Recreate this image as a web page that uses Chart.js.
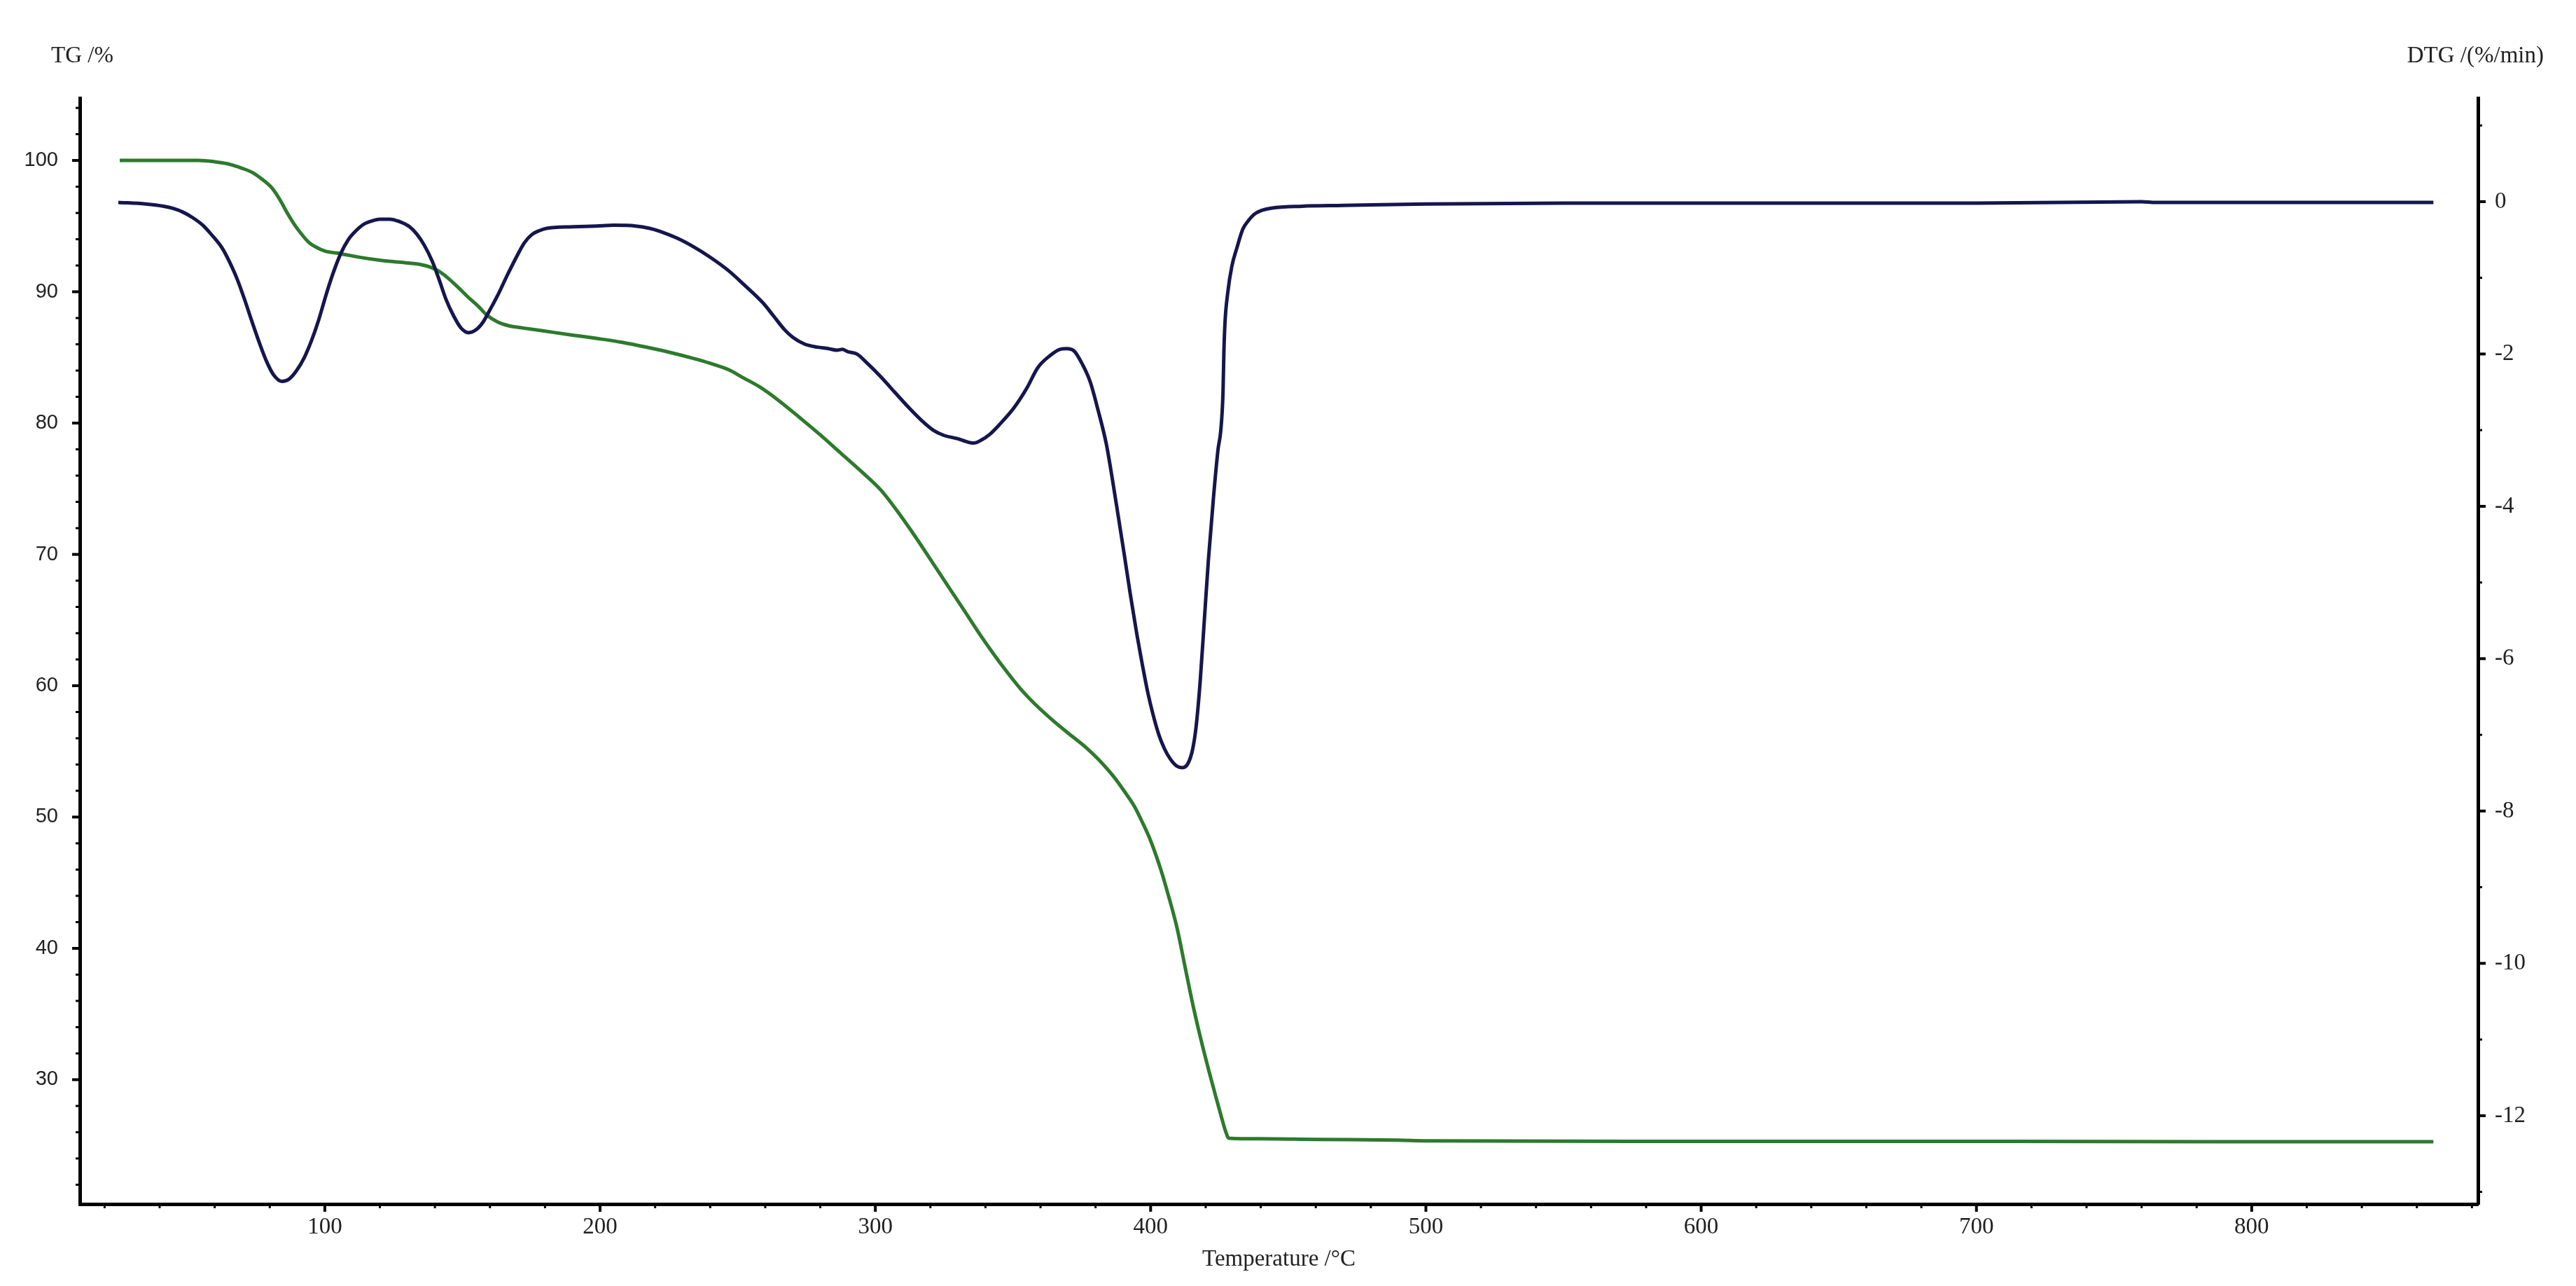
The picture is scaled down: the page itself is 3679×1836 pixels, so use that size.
<!DOCTYPE html>
<html>
<head>
<meta charset="utf-8">
<title>TG / DTG</title>
<script src="https://cdn.jsdelivr.net/npm/chart.js@4.4.0/dist/chart.umd.min.js"></script>
<style>
  html, body { margin: 0; padding: 0; background: #fff; overflow: hidden; }
  #wrap { width: 3679px; height: 1836px; position: relative; }
</style>
</head>
<body>
<div id="wrap"><canvas id="grafico"></canvas></div>
<script>
// TG curve (temperature in °C, mass in %)
const tgTemp = [25.5, 40, 54, 60, 64.6, 70, 73.5, 77, 80.8, 84, 86.2, 89, 91.5, 94, 96.8, 100,
  105.8, 112, 120, 127, 134.3, 138, 141.5, 145, 148.6, 152, 155.7, 159, 162.8, 167, 171.7, 180,
  190, 198.6, 208, 216.4, 225, 234.3, 240, 246.8, 252, 258, 265, 272.9, 280, 287.5, 295, 302,
  309, 315, 321, 327, 333, 338, 343, 348, 353, 358, 364.8, 370, 376.5, 381, 386.5,
  391, 394, 397, 400, 403.7, 406.5, 409.6, 412.5, 415.3, 418, 421.2, 423.5, 425.6, 427.2, 428.4,
  440, 460, 490, 500, 600, 700, 800, 866];
const tgValues = [100.0, 100.0, 100.0, 99.9, 99.75, 99.4, 99.1, 98.6, 97.9, 96.9, 96.05, 95.1, 94.4, 93.8, 93.4, 93.1,
  92.9, 92.65, 92.4, 92.25, 92.1, 91.9, 91.55, 91.0, 90.3, 89.6, 88.9, 88.2, 87.7, 87.4, 87.25, 87.0,
  86.7, 86.45, 86.15, 85.8, 85.4, 84.9, 84.55, 84.05, 83.45, 82.75, 81.7, 80.35, 79.1, 77.7, 76.3, 74.9,
  73.0, 71.2, 69.3, 67.4, 65.5, 63.9, 62.4, 61.0, 59.7, 58.6, 57.3, 56.4, 55.3, 54.4, 53.1,
  51.8, 50.85, 49.6, 48.2, 46.0, 44.0, 41.55, 38.6, 35.75, 33.3, 30.65, 28.85, 27.25, 26.1, 25.55,
  25.5, 25.45, 25.4, 25.35, 25.3, 25.3, 25.28, 25.28];

// DTG curve (temperature in °C, rate in %/min)
const dtgTemp = [25, 35, 41.5, 45, 48.6, 52, 55.7, 59, 62.9, 65.5, 68.2, 71, 73.5, 76.5, 79, 81.5,
  84.4, 87, 89.7, 92.5, 95.1, 97.8, 100.4, 103, 105.8, 108.5, 111.1, 114, 116.5, 120, 123.6, 127,
  130.8, 133.5, 136.1, 139, 141.5, 144, 146.8, 149.5, 152.2, 155, 157.5, 160, 162.8, 166.5, 170,
  172.5, 175.3, 178, 180.6, 190, 198.6, 205, 212.9, 218, 221.8, 228, 234.3, 240, 246.8, 252,
  259.2, 263, 267, 270, 274.3, 279, 283, 286, 288, 290, 293.3, 297, 302, 307, 312.3, 317, 321,
  325, 329.7, 333, 335.6, 338.5, 341.4, 345, 350.3, 355, 359, 363.5, 367, 369.5, 372.2, 375, 378,
  381, 383.9, 386, 388.2, 390.5, 392.6, 395, 397, 399, 401, 403, 405, 407.2, 409.5, 411.5, 413.5,
  415.2, 416.5, 418, 419.5, 421, 422.8, 424.5, 425.5, 426.3, 426.6, 427, 428, 429.5, 431.4,
  433.5, 435.5, 437.5, 440, 445, 455, 470, 500, 550, 600, 700, 760, 765, 800, 866];
const dtgValues = [-0.01, -0.03, -0.06, -0.09, -0.14, -0.21, -0.31, -0.44, -0.62, -0.8, -1.02, -1.3, -1.57, -1.88, -2.11, -2.28,
  -2.36, -2.33, -2.22, -2.05, -1.83, -1.55, -1.23, -0.94, -0.68, -0.5, -0.39, -0.3, -0.26, -0.23, -0.23, -0.26,
  -0.33, -0.43, -0.57, -0.78, -1.02, -1.28, -1.5, -1.66, -1.72, -1.68, -1.58, -1.42, -1.23, -0.95, -0.7,
  -0.54, -0.43, -0.38, -0.35, -0.33, -0.32, -0.31, -0.32, -0.35, -0.39, -0.48, -0.6, -0.73, -0.91, -1.08,
  -1.33, -1.5, -1.68, -1.78, -1.87, -1.91, -1.93, -1.95, -1.94, -1.97, -2.0, -2.12, -2.3, -2.5, -2.71, -2.88, -3.0,
  -3.07, -3.11, -3.15, -3.17, -3.13, -3.06, -2.93, -2.71, -2.45, -2.18, -2.02, -1.94, -1.93, -1.96, -2.12, -2.36,
  -2.75, -3.18, -3.62, -4.12, -4.65, -5.15, -5.68, -6.08, -6.45, -6.75, -7.0, -7.18, -7.32, -7.41, -7.43, -7.38,
  -7.2, -6.9, -6.3, -5.5, -4.7, -3.9, -3.25, -3.0, -2.5, -2.0, -1.6, -1.2, -0.85, -0.6,
  -0.36, -0.25, -0.17, -0.12, -0.08, -0.06, -0.05, -0.03, -0.02, -0.02, -0.02, 0.0, -0.01, -0.01, -0.01];

// Tick labels
const xMajorTicks = [100, 200, 300, 400, 500, 600, 700, 800];
const tgMajorTicks = [30, 40, 50, 60, 70, 80, 90, 100];
const dtgMajorTicks = [-12, -10, -8, -6, -4, -2, 0];

function pares(xs, ys) {
  return xs.map((x, i) => ({ x: x, y: ys[i] }));
}

// minor ticks every "passo" between the axis limits
function marcas(passo) {
  return function (scale) {
    const lista = [];
    const ini = Math.ceil(scale.min / passo);
    const fim = Math.floor(scale.max / passo);
    for (let k = ini; k <= fim; k++) {
      lista.push({ value: Math.round(k * passo * 1000) / 1000 });
    }
    scale.ticks = lista;
  };
}

function rotulo(majors) {
  return function (v) {
    const r = Math.round(v);
    return majors.includes(r) && Math.abs(r - v) < 1e-6 ? String(r) : '';
  };
}

// draws tick marks (long for labelled ticks, short for the others)
const marcasEixo = {
  id: 'marcasEixo',
  afterDraw(chart) {
    const ctx = chart.ctx;
    ctx.save();
    ctx.strokeStyle = '#000';
    ['x', 'yTG', 'yDTG'].forEach(id => {
      const s = chart.scales[id];
      s.ticks.forEach(t => {
        const major = t.label !== '';
        const len = major ? 11 : 6;
        const p = s.getPixelForValue(t.value);
        ctx.lineWidth = major ? 4 : 3;
        ctx.beginPath();
        if (id === 'x') {
          ctx.moveTo(p, s.top); ctx.lineTo(p, s.top + len);
        } else if (s.position === 'left') {
          ctx.moveTo(s.right, p); ctx.lineTo(s.right - len, p);
        } else {
          ctx.moveTo(s.left, p); ctx.lineTo(s.left + len, p);
        }
        ctx.stroke();
      });
    });
    ctx.restore();
  }
};

// axis titles
const titulos = {
  id: 'titulos',
  afterDraw(chart) {
    const ctx = chart.ctx;
    const x = chart.scales.x;
    ctx.save();
    ctx.fillStyle = '#222';
    ctx.font = '33px "Liberation Serif"';
    ctx.textBaseline = 'alphabetic';
    ctx.textAlign = 'left';
    ctx.fillText('TG /%', 73, 89);
    ctx.textAlign = 'right';
    ctx.fillText('DTG /(%/min)', 3633, 89);
    ctx.textAlign = 'center';
    ctx.fillText('Temperature /°C', (x.left + x.right) / 2, 1807);
    ctx.restore();
  }
};

const ctx = document.getElementById('grafico').getContext('2d');

new Chart(ctx, {
  type: 'line',
  data: {
    datasets: [{
      label: 'DTG',
      data: pares(dtgTemp, dtgValues),
      yAxisID: 'yDTG',
      borderColor: '#16164e',
      borderWidth: 5,
      pointRadius: 0,
      cubicInterpolationMode: 'monotone',
      fill: false
    }, {
      label: 'TG',
      data: pares(tgTemp, tgValues),
      yAxisID: 'yTG',
      borderColor: '#2d7a2d',
      borderWidth: 5,
      pointRadius: 0,
      cubicInterpolationMode: 'monotone',
      fill: false
    }]
  },
  options: {
    responsive: true,
    maintainAspectRatio: false,
    devicePixelRatio: 1,
    animation: false,
    layout: { padding: { top: 140, left: 0, right: 0, bottom: 0 } },
    plugins: {
      legend: { display: false },
      tooltip: { enabled: false }
    },
    scales: {
      x: {
        type: 'linear',
        position: 'bottom',
        min: 11,
        max: 882.2,
        afterBuildTicks: marcas(20),
        afterFit: s => { s.height = 117; },
        grid: { display: false, drawTicks: false },
        border: { display: true, color: '#000', width: 5 },
        ticks: {
          autoSkip: false,
          maxRotation: 0,
          minRotation: 0,
          padding: 14,
          color: '#222',
          font: { family: '"Liberation Serif"', size: 33 },
          callback: rotulo(xMajorTicks)
        }
      },
      yTG: {
        type: 'linear',
        position: 'left',
        min: 20.53,
        max: 104.75,
        afterBuildTicks: marcas(2),
        afterFit: s => { s.width = 114; },
        grid: { display: false, drawTicks: false },
        border: { display: true, color: '#000', width: 5 },
        ticks: {
          autoSkip: false,
          padding: 31,
          color: '#222',
          font: { family: '"Liberation Sans"', size: 29 },
          callback: rotulo(tgMajorTicks)
        }
      },
      yDTG: {
        type: 'linear',
        position: 'right',
        min: -13.16,
        max: 1.36,
        afterBuildTicks: marcas(1),
        afterFit: s => { s.width = 140; },
        grid: { display: false, drawTicks: false },
        border: { display: true, color: '#000', width: 5 },
        ticks: {
          autoSkip: false,
          padding: 24,
          color: '#222',
          font: { family: '"Liberation Serif"', size: 33 },
          callback: rotulo(dtgMajorTicks)
        }
      }
    }
  },
  plugins: [marcasEixo, titulos]
});
</script>
</body>
</html>
